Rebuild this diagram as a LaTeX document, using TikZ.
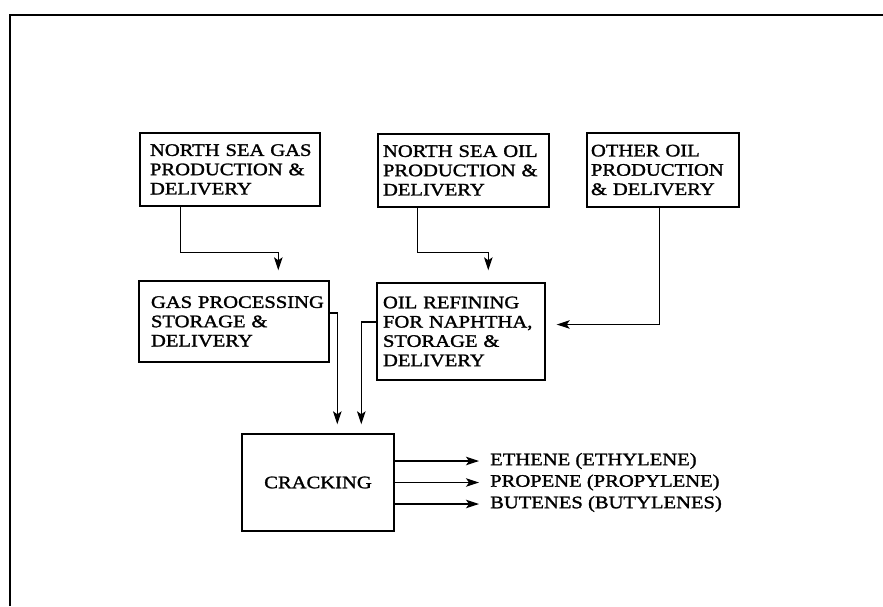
\documentclass[tikz,border=0pt]{standalone}
\usepackage{fontspec}
\setmainfont{Liberation Serif}[FakeStretch=1.17,FakeBold=1.5]
\usetikzlibrary{arrows.meta}
\newcommand{\diafont}{\fontsize{17.6pt}{19.3pt}\selectfont\hyphenpenalty=10000\relax}
\begin{document}
\begin{tikzpicture}[x=1pt, y=-1pt]
  \tikzstyle{box}=[draw, line width=1.4pt, rectangle, align=left, font=\diafont]
  \tikzstyle{product}=[anchor=west, inner sep=0pt, font=\diafont]
  \tikzstyle{flow}=[line width=1.1pt, -{Stealth[length=13pt,width=8.5pt,inset=3pt]}]

  \useasboundingbox (0,0) rectangle (883,606);

  % Rahmen
  \draw[line width=1.6pt] (10,606) -- (10,15) -- (883,15);

  % Gewinnung
  \node[box, minimum width=180, minimum height=73, text width=160, inner xsep=10pt]
    (nsg) at (230,169.5) {NORTH~SEA~GAS\\PRODUCTION~\&\\DELIVERY};
  \node[box, minimum width=171, minimum height=73, text width=161, inner xsep=5pt]
    (nso) at (463.5,170.5) {NORTH~SEA~OIL\\PRODUCTION~\&\\DELIVERY};
  \node[box, minimum width=152, minimum height=74, text width=144, inner xsep=4pt]
    (oth) at (663,170) {OTHER~OIL\\PRODUCTION\\\&~DELIVERY};

  % Aufbereitung
  \node[box, minimum width=190, minimum height=81, text width=166, inner xsep=12pt]
    (gas) at (234,321.5) {GAS~PROCESSING\\STORAGE~\&\\DELIVERY};
  \node[box, minimum width=168, minimum height=97, text width=156, inner xsep=6pt]
    (oil) at (461,331.5) {OIL~REFINING\\FOR~NAPHTHA,\\STORAGE~\&\\DELIVERY};

  % Cracken
  \node[box, minimum width=152, minimum height=97, align=center]
    (crk) at (318,482.5) {CRACKING};

  % Produkte
  \node[product] (eth) at (490,461) {ETHENE (ETHYLENE)};
  \node[product] (pro) at (490,482.5) {PROPENE (PROPYLENE)};
  \node[product] (but) at (490,504) {BUTENES (BUTYLENES)};

  % Verbindungen
  \draw[flow] ([xshift=41pt]nsg.south west) -- ++(0,46)
    -| ([xshift=140pt, yshift=10pt]gas.north west);
  \draw[flow] ([xshift=40pt]nso.south west) -- ++(0,45)
    -| ([xshift=112pt, yshift=12pt]oil.north west);
  \draw[flow] ([xshift=73pt]oth.south west) |- ([xshift=11pt, yshift=7pt]oil.east);
  \draw[flow] ([yshift=8.5pt]gas.east) -| ([xshift=96pt, yshift=9pt]crk.north west);
  \draw[flow] ([yshift=9.5pt]oil.west) -| ([xshift=120pt, yshift=9pt]crk.north west);
  \foreach \p in {eth, pro, but}
    \draw[flow] (crk.east |- \p.west) -- ([xshift=-11pt]\p.west);
\end{tikzpicture}
\end{document}
